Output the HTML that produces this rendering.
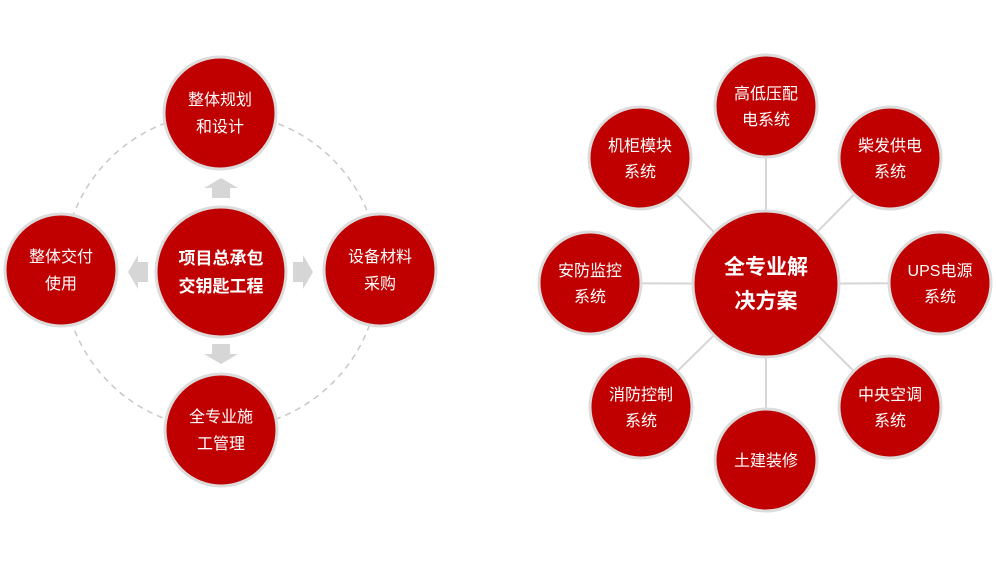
<!DOCTYPE html>
<html><head><meta charset="utf-8"><style>
body{margin:0;background:#fff;}
svg text{font-family:"Liberation Sans","Noto Sans CJK SC",sans-serif;fill:#fff;text-anchor:middle;}
</style></head><body>
<svg width="996" height="567" viewBox="0 0 996 567" xmlns="http://www.w3.org/2000/svg">
<rect width="996" height="567" fill="#fff"/>
<!-- left -->
<circle cx="221" cy="271" r="158" fill="none" stroke="#c8c8c8" stroke-width="1.5" stroke-dasharray="6,5"/>
<g fill="#d6d6d6">
<polygon points="221,178 238,188 230,188 230,198 212,198 212,188 204,188"/>
<polygon points="221,364 238,354 230,354 230,344 212,344 212,354 204,354"/>
<polygon points="128,272 138,255 138,262 148,262 148,282 138,282 138,289"/>
<polygon points="313,272 303,255 303,262 293,262 293,282 303,282 303,289"/>
</g>
<g fill="#c00000" stroke="#dcdcdc" stroke-width="3">
<circle cx="221" cy="272" r="65"/>
<circle cx="220" cy="113" r="56"/>
<circle cx="61" cy="270" r="56"/>
<circle cx="380" cy="270" r="56"/>
<circle cx="221" cy="430" r="56"/>
</g>
<g font-size="17" font-weight="bold">
<text x="221" y="264">项目总承包</text><text x="221" y="292">交钥匙工程</text>
</g>
<g font-size="16">
<text x="220" y="105">整体规划</text><text x="220" y="132">和设计</text>
<text x="61" y="262">整体交付</text><text x="61" y="289">使用</text>
<text x="380" y="262">设备材料</text><text x="380" y="289">采购</text>
<text x="221" y="422">全专业施</text><text x="221" y="449">工管理</text>
</g>
<!-- right -->
<g stroke="#d6d6d6" stroke-width="2">
<line x1="766" y1="284" x2="766" y2="106"/><line x1="766" y1="284" x2="640" y2="158"/>
<line x1="766" y1="284" x2="890" y2="158"/><line x1="766" y1="284" x2="590" y2="283"/>
<line x1="766" y1="284" x2="940" y2="283"/><line x1="766" y1="284" x2="641" y2="407"/>
<line x1="766" y1="284" x2="890" y2="407"/><line x1="766" y1="284" x2="766" y2="460"/>
</g>
<g fill="#c00000" stroke="#dcdcdc" stroke-width="3">
<circle cx="766" cy="284" r="73"/>
<circle cx="766" cy="106" r="51"/><circle cx="640" cy="158" r="51"/>
<circle cx="890" cy="158" r="51"/><circle cx="590" cy="283" r="51"/>
<circle cx="940" cy="283" r="51"/><circle cx="641" cy="407" r="51"/>
<circle cx="890" cy="407" r="51"/><circle cx="766" cy="460" r="51"/>
</g>
<g font-size="21" font-weight="bold">
<text x="766" y="274">全专业解</text><text x="766" y="308">决方案</text>
</g>
<g font-size="16">
<text x="766" y="99">高低压配</text><text x="766" y="125">电系统</text>
<text x="640" y="151">机柜模块</text><text x="640" y="177">系统</text>
<text x="890" y="151">柴发供电</text><text x="890" y="177">系统</text>
<text x="590" y="276">安防监控</text><text x="590" y="302">系统</text>
<text x="940" y="276">UPS电源</text><text x="940" y="302">系统</text>
<text x="641" y="400">消防控制</text><text x="641" y="426">系统</text>
<text x="890" y="400">中央空调</text><text x="890" y="426">系统</text>
<text x="766" y="466">土建装修</text>
</g>
</svg>
</body></html>
